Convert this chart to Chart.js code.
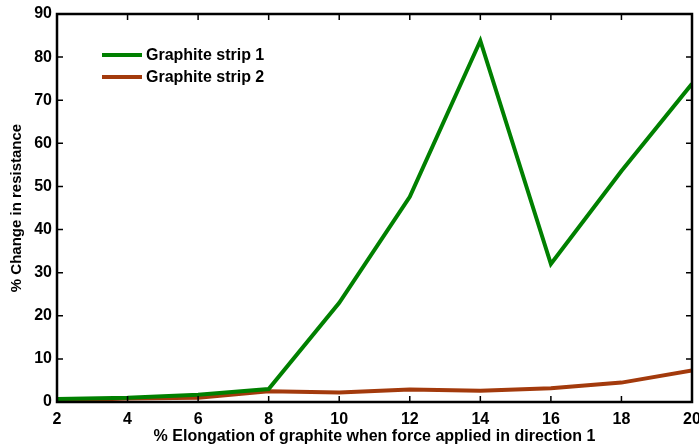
<!DOCTYPE html>
<html lang="en">
<head>
    <meta charset="UTF-8">
    <title>Graphite strip resistance</title>
    <style>
        body { margin: 0; padding: 0; background: #fff; }
        #wrap { width: 699px; height: 448px; }
    </style>
</head>
<body>
    <div id="wrap"><canvas id="chart" width="699" height="448"></canvas></div>

    <script src="https://cdn.jsdelivr.net/npm/chart.js"></script>
    <script>
        // data
        const elongation = [2, 4, 6, 8, 10, 12, 14, 16, 18, 20];
        const strip1 = [0.7, 1.0, 1.7, 3.0, 23.0, 47.6, 83.8, 32.0, 53.6, 73.8];
        const strip2 = [0.3, 0.8, 1.0, 2.5, 2.2, 2.9, 2.6, 3.2, 4.5, 7.3];
        const xTicks = [2, 4, 6, 8, 10, 12, 14, 16, 18, 20];
        const yTicks = [0, 10, 20, 30, 40, 50, 60, 70, 80, 90];

        const family = '"Liberation Sans", Arial, sans-serif';

        // box around plot, inward ticks on every side, legend inside plot
        const frame = {
            id: 'frame',
            afterDraw(chart) {
                const c = chart.ctx, a = chart.chartArea;
                const xs = chart.scales.x, ys = chart.scales.y;
                c.save();
                c.strokeStyle = '#000';
                c.lineWidth = 1.5;
                c.beginPath();
                xTicks.forEach(v => {
                    const p = xs.getPixelForValue(v);
                    c.moveTo(p, a.bottom); c.lineTo(p, a.bottom - 6);
                    c.moveTo(p, a.top); c.lineTo(p, a.top + 6);
                });
                yTicks.forEach(v => {
                    const p = ys.getPixelForValue(v);
                    c.moveTo(a.left, p); c.lineTo(a.left + 6, p);
                    c.moveTo(a.right, p); c.lineTo(a.right - 6, p);
                });
                c.stroke();
                c.lineWidth = 2.5;
                c.strokeRect(a.left, a.top, a.right - a.left, a.bottom - a.top);

                // legend
                c.font = 'bold 16px ' + family;
                c.textBaseline = 'middle';
                chart.data.datasets.forEach((ds, i) => {
                    const y = 55 + i * 22;
                    c.strokeStyle = ds.borderColor;
                    c.lineWidth = 4;
                    c.beginPath();
                    c.moveTo(102, y); c.lineTo(142, y);
                    c.stroke();
                    c.fillStyle = '#000';
                    c.fillText(ds.label, 146, y + 1);
                });
                c.restore();
            }
        };

        new Chart(document.getElementById('chart'), {
            type: 'line',
            data: {
                labels: elongation,
                datasets: [
                    {
                        label: 'Graphite strip 1',
                        data: elongation.map((x, i) => ({ x: x, y: strip1[i] })),
                        borderColor: '#008000',
                        borderWidth: 4,
                        pointRadius: 0,
                        tension: 0
                    },
                    {
                        label: 'Graphite strip 2',
                        data: elongation.map((x, i) => ({ x: x, y: strip2[i] })),
                        borderColor: '#a33a0c',
                        borderWidth: 4,
                        pointRadius: 0,
                        tension: 0
                    }
                ]
            },
            options: {
                responsive: false,
                animation: false,
                layout: { padding: { left: 6, right: 7, top: 14, bottom: 2 } },
                plugins: {
                    legend: { display: false },
                    tooltip: { enabled: false }
                },
                scales: {
                    x: {
                        type: 'linear',
                        min: 2,
                        max: 20,
                        afterBuildTicks: s => { s.ticks = xTicks.map(v => ({ value: v })); },
                        afterFit: s => { s.height = 44; s.paddingLeft = 0; s.paddingRight = 0; },
                        grid: { display: false, drawTicks: false },
                        border: { display: false },
                        ticks: {
                            color: '#000',
                            padding: 8,
                            font: { family: family, size: 16, weight: 'bold' }
                        },
                        title: {
                            display: true,
                            text: '% Elongation of graphite when force applied in direction 1',
                            color: '#000',
                            padding: { top: 0, bottom: 0 },
                            font: { family: family, size: 16, weight: 'bold' }
                        }
                    },
                    y: {
                        min: 0,
                        max: 90,
                        afterBuildTicks: s => { s.ticks = yTicks.map(v => ({ value: v })); },
                        afterFit: s => { s.width = 51; s.paddingTop = 0; s.paddingBottom = 0; },
                        grid: { display: false, drawTicks: false },
                        border: { display: false },
                        ticks: {
                            color: '#000',
                            padding: 5,
                            font: { family: family, size: 16, weight: 'bold' }
                        },
                        title: {
                            display: true,
                            text: '% Change in resistance',
                            color: '#000',
                            padding: { top: 2, bottom: 0 },
                            font: { family: family, size: 15, weight: 'bold' }
                        }
                    }
                }
            },
            plugins: [frame]
        });
    </script>
</body>
</html>
